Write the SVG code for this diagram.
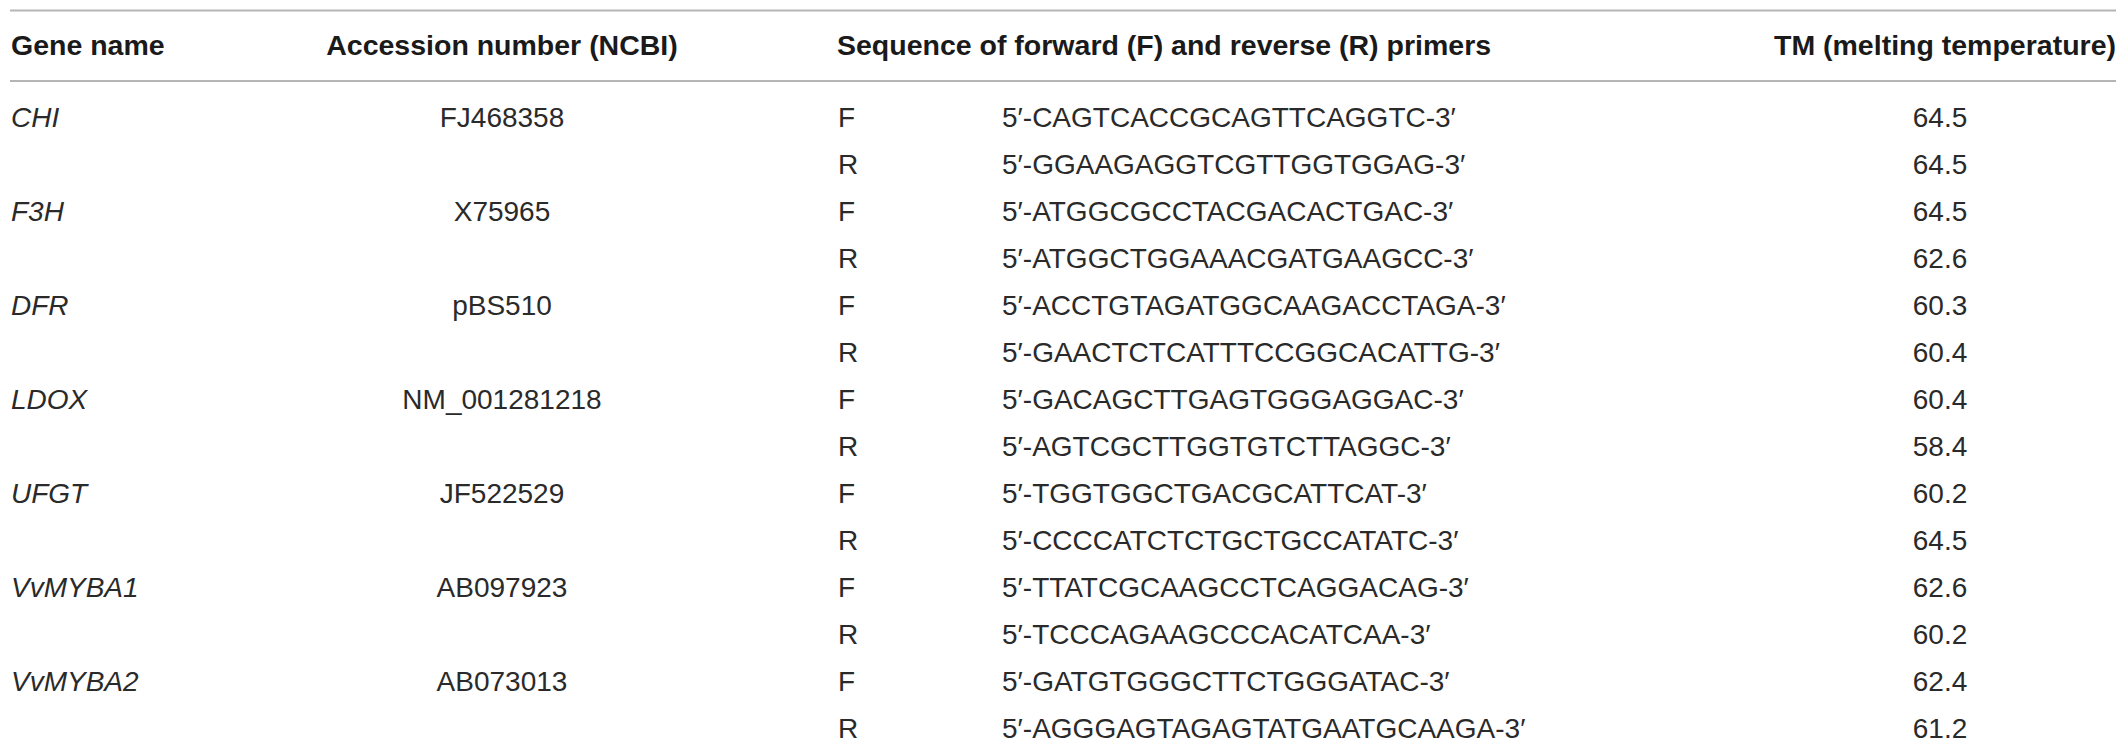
<svg xmlns="http://www.w3.org/2000/svg" width="2128" height="754" viewBox="0 0 2128 754">
<style>
text{font-family:"Liberation Sans",Arial,sans-serif;font-size:28px;fill:#2a2a2a}
.h{font-weight:bold;font-size:28.5px;fill:#1a1a1a}
.g{font-style:italic}
.m{text-anchor:middle}
.e{text-anchor:end}
.rule{stroke:#b5b5b5;stroke-width:2;fill:none}
</style>
<rect width="2128" height="754" fill="#ffffff"/>
<g id="rules">
<line class="rule" x1="10" y1="10.5" x2="2116" y2="10.5"/>
<line class="rule" x1="10" y1="81" x2="2116" y2="81"/>
</g>
<g id="header">
<text class="h" x="11" y="55">Gene name</text>
<text class="h m" x="502" y="55">Accession number (NCBI)</text>
<text class="h" x="837" y="55">Sequence of forward (F) and reverse (R) primers</text>
<text class="h e" x="2116" y="55">TM (melting temperature)</text>
</g>
<g id="row-CHI">
<text class="g" x="11" y="127">CHI</text>
<text class="m" x="502" y="127">FJ468358</text>
<text x="838" y="127">F</text><text x="1002" y="127">5′-CAGTCACCGCAGTTCAGGTC-3′</text><text class="m" x="1940" y="127">64.5</text>
<text x="838" y="174">R</text><text x="1002" y="174">5′-GGAAGAGGTCGTTGGTGGAG-3′</text><text class="m" x="1940" y="174">64.5</text>
</g>
<g id="row-F3H">
<text class="g" x="11" y="221">F3H</text>
<text class="m" x="502" y="221">X75965</text>
<text x="838" y="221">F</text><text x="1002" y="221">5′-ATGGCGCCTACGACACTGAC-3′</text><text class="m" x="1940" y="221">64.5</text>
<text x="838" y="268">R</text><text x="1002" y="268">5′-ATGGCTGGAAACGATGAAGCC-3′</text><text class="m" x="1940" y="268">62.6</text>
</g>
<g id="row-DFR">
<text class="g" x="11" y="315">DFR</text>
<text class="m" x="502" y="315">pBS510</text>
<text x="838" y="315">F</text><text x="1002" y="315">5′-ACCTGTAGATGGCAAGACCTAGA-3′</text><text class="m" x="1940" y="315">60.3</text>
<text x="838" y="362">R</text><text x="1002" y="362">5′-GAACTCTCATTTCCGGCACATTG-3′</text><text class="m" x="1940" y="362">60.4</text>
</g>
<g id="row-LDOX">
<text class="g" x="11" y="409">LDOX</text>
<text class="m" x="502" y="409">NM_001281218</text>
<text x="838" y="409">F</text><text x="1002" y="409">5′-GACAGCTTGAGTGGGAGGAC-3′</text><text class="m" x="1940" y="409">60.4</text>
<text x="838" y="456">R</text><text x="1002" y="456">5′-AGTCGCTTGGTGTCTTAGGC-3′</text><text class="m" x="1940" y="456">58.4</text>
</g>
<g id="row-UFGT">
<text class="g" x="11" y="503">UFGT</text>
<text class="m" x="502" y="503">JF522529</text>
<text x="838" y="503">F</text><text x="1002" y="503">5′-TGGTGGCTGACGCATTCAT-3′</text><text class="m" x="1940" y="503">60.2</text>
<text x="838" y="550">R</text><text x="1002" y="550">5′-CCCCATCTCTGCTGCCATATC-3′</text><text class="m" x="1940" y="550">64.5</text>
</g>
<g id="row-VvMYBA1">
<text class="g" x="11" y="597">VvMYBA1</text>
<text class="m" x="502" y="597">AB097923</text>
<text x="838" y="597">F</text><text x="1002" y="597">5′-TTATCGCAAGCCTCAGGACAG-3′</text><text class="m" x="1940" y="597">62.6</text>
<text x="838" y="644">R</text><text x="1002" y="644">5′-TCCCAGAAGCCCACATCAA-3′</text><text class="m" x="1940" y="644">60.2</text>
</g>
<g id="row-VvMYBA2">
<text class="g" x="11" y="691">VvMYBA2</text>
<text class="m" x="502" y="691">AB073013</text>
<text x="838" y="691">F</text><text x="1002" y="691">5′-GATGTGGGCTTCTGGGATAC-3′</text><text class="m" x="1940" y="691">62.4</text>
<text x="838" y="738">R</text><text x="1002" y="738">5′-AGGGAGTAGAGTATGAATGCAAGA-3′</text><text class="m" x="1940" y="738">61.2</text>
</g>
</svg>
